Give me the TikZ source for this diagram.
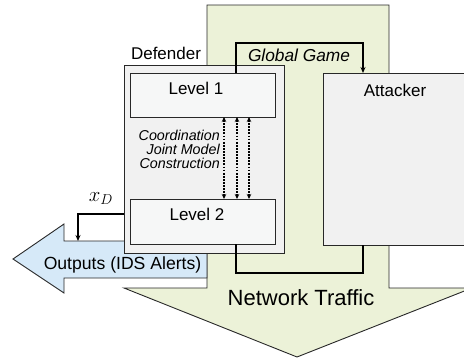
\documentclass[tikz,border=0pt]{standalone}
\usepackage{fontspec}
\setmainfont{Liberation Sans}
\usetikzlibrary{arrows.meta}
\definecolor{trafficgreen}{RGB}{236,242,216}
\definecolor{outblue}{RGB}{214,233,248}
\definecolor{boxgray}{RGB}{241,241,241}
\definecolor{levelgray}{RGB}{246,247,247}
\definecolor{edgecol}{RGB}{40,40,40}
\begin{document}
\begin{tikzpicture}[x=1pt,y=-1pt,
  bigarrow/.style={draw=edgecol,line width=0.9pt,line join=miter},
  box/.style={draw=edgecol,line width=0.9pt,inner sep=0pt,outer sep=0pt,fill=boxgray},
  lvlbox/.style={box,fill=levelgray},
  lbl/.style={font=\fontsize{17}{17}\selectfont,inner sep=0pt,anchor=base},
  smalllbl/.style={font=\fontsize{14.3}{14.3}\selectfont\itshape,inner sep=0pt,anchor=base east},
  loopline/.style={line width=1.8pt,draw=black},
  dotarrow/.style={line width=1.7pt,dash pattern=on 1.8pt off 1.3pt,
    {Stealth[length=5pt,width=4.5pt]}-{Stealth[length=5pt,width=4.5pt]}}
]
\useasboundingbox (0,0) rectangle (464,362);
\clip (0,0) rectangle (464,362);
% network traffic arrow
\draw[bigarrow,fill=trafficgreen] (207,5) -- (389,5) -- (389,288) -- (472,288)
  -- (297,357) -- (124,288) -- (207,288) -- cycle;
% outputs arrow
\draw[bigarrow,fill=outblue] (207,241) -- (64,241) -- (64,224) -- (13,259)
  -- (64,293) -- (64,278) -- (207,278) -- cycle;
% boxes
\node[box,minimum width=160,minimum height=188] (def) at (204,159) {};
\node[lvlbox,minimum width=145,minimum height=44] (lvl1) at (202.5,95) {};
\node[lvlbox,minimum width=145,minimum height=45] (lvl2) at (202.5,221.5) {};
\node[box,minimum width=147,minimum height=172] (att) at (396.5,159) {};
% global game loop
\coordinate (gL) at (236,43);
\coordinate (gR) at (363,43);
\draw[loopline,-{Stealth[length=6pt,width=5pt]}] (gL |- lvl1.north) -- (gL) -- (gR) -- (gR |- att.north);
\coordinate (bL) at (236,273);
\coordinate (bR) at (363,273);
\draw[loopline] (bL |- lvl2.south) -- (bL) -- (bR) -- (bR |- att.south);
% dotted coordination arrows
\coordinate (d1) at (224,150);
\coordinate (d2) at (237,150);
\coordinate (d3) at (249,150);
\draw[dotarrow] (lvl1.south -| d1) -- (lvl2.north -| d1);
\draw[dotarrow] (lvl1.south -| d2) -- (lvl2.north -| d2);
\draw[dotarrow] (lvl1.south -| d3) -- (lvl2.north -| d3);
% x_D arrow
\coordinate (xc) at (78,214);
\coordinate (xe) at (78,241);
\draw[line width=1.8pt,-{Stealth[length=6pt,width=5pt]}] (def.west |- xc) -- (xc) -- (xe);
% texts
\node[lbl] (tdef) at (166,59) {Defender};
\node[lbl] (tl1) at (196,94) {Level 1};
\node[lbl] (tl2) at (197,220) {Level 2};
\node[lbl] (tatt) at (395,96) {Attacker};
\node[lbl,font=\fontsize{17.3}{17.3}\selectfont\itshape] (tgg) at (299,61) {Global Game};
\node[lbl,font=\fontsize{17.6}{17.6}\selectfont] (tout) at (122.5,269) {Outputs (IDS Alerts)};
\node[lbl,font=\fontsize{22}{22}\selectfont] (tnet) at (301,305) {Network Traffic};
\node[smalllbl] (tc1) at (220,140) {Coordination};
\node[smalllbl] (tc2) at (220,154.5) {Joint Model};
\node[smalllbl] (tc3) at (220,168.5) {Construction};
\node[inner sep=0pt,anchor=base] (txd) at (101,201) {\fontsize{22}{22}\selectfont$x_D$};
\end{tikzpicture}
\end{document}
